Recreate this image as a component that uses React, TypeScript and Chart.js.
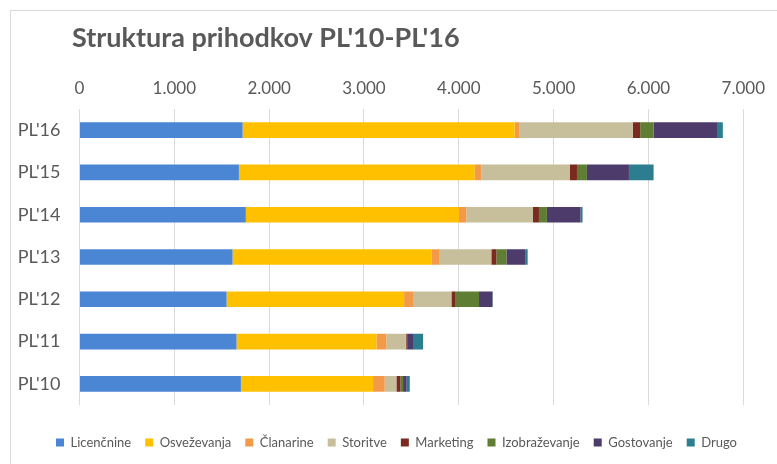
import React, { useEffect, useRef } from "react";
import { Chart, registerables } from "chart.js";

Chart.register(...registerables);

const TITLE = "Struktura prihodkov PL'10-PL'16";
const categories = ["PL'16", "PL'15", "PL'14", "PL'13", "PL'12", "PL'11", "PL'10"];
const xTickLabels = ["0", "1.000", "2.000", "3.000", "4.000", "5.000", "6.000", "7.000"];

const seriesNames = ["Licenčnine", "Osveževanja", "Članarine", "Storitve", "Marketing", "Izobraževanje", "Gostovanje", "Drugo"];
const licencnine = [1720, 1681, 1754, 1614, 1551, 1656, 1702];
const osvezevanja = [2869, 2487, 2248, 2097, 1872, 1476, 1394];
const clanarine = [53, 70, 78, 88, 94, 105, 123];
const storitve = [1194, 931, 702, 544, 405, 203, 123];
const marketing = [77, 77, 63, 53, 45, 10, 42];
const izobrazevanje = [140, 105, 84, 106, 246, 5, 28];
const gostovanje = [678, 443, 355, 203, 141, 62, 38];
const drugo = [53, 260, 21, 21, 5, 106, 33];

const colors = ["#4a86d3", "#ffc000", "#f39a4a", "#c7bf9c", "#7a2a1e", "#5f7d33", "#4d3b6c", "#2c7d90"];

const FONT = "Lato, 'Liberation Sans', sans-serif";
const TEXT = "#595959";

export default function App() {
  const ref = useRef<HTMLCanvasElement | null>(null);
  useEffect(() => {
    if (!ref.current) return;
    const all = [licencnine, osvezevanja, clanarine, storitve, marketing, izobrazevanje, gostovanje, drugo];
    const decor = {
      id: "decor",
      beforeDraw(chart: any) {
        const ctx = chart.ctx;
        ctx.save();
        ctx.fillStyle = "#ffffff";
        ctx.fillRect(0, 0, chart.width, chart.height);
        ctx.strokeStyle = "#d9d9d9";
        ctx.lineWidth = 1;
        ctx.strokeRect(10.5, 10.5, 900, 600);
        ctx.restore();
      },
      afterDraw(chart: any) {
        const ctx = chart.ctx;
        ctx.save();
        ctx.fillStyle = TEXT;
        ctx.font = `bold 27px ${FONT}`;
        ctx.textBaseline = "alphabetic";
        ctx.textAlign = "left";
        ctx.fillText(TITLE, 72, 47);
        ctx.restore();
      },
    };
    const chart = new Chart(ref.current, {
      type: "bar",
      data: {
        labels: categories,
        datasets: all.map((d, i) => ({
          label: seriesNames[i],
          data: d,
          backgroundColor: colors[i],
          borderWidth: 0,
          barPercentage: 0.37,
          categoryPercentage: 1,
        })),
      },
      options: {
        indexAxis: "y",
        animation: false,
        responsive: false,
        layout: { padding: { left: 16, right: 0, top: 56, bottom: 5 } },
        plugins: {
          title: { display: false },
          tooltip: { enabled: false },
          legend: {
            position: "bottom",
            align: "center",
            labels: {
              boxWidth: 8,
              boxHeight: 8,
              padding: 14,
              color: TEXT,
              font: { family: FONT, size: 13 },
            },
          },
        },
        scales: {
          x: {
            position: "top",
            stacked: true,
            min: 0,
            max: 7000,
            afterFit: (s: any) => { s.height = 53; },
            ticks: {
              stepSize: 1000,
              padding: 10,
              color: TEXT,
              font: { family: FONT, size: 17 },
              callback: (_v: any, i: number) => xTickLabels[i],
            },
            grid: { color: "#d9d9d9", drawTicks: false },
            border: { display: false },
          },
          x2: {
            position: "bottom",
            display: true,
            min: 0,
            max: 7000,
            afterFit: (s: any) => { s.height = 17; },
            ticks: { display: false },
            grid: { display: false, drawTicks: false },
            border: { display: false },
          },
          y: {
            stacked: true,
            afterFit: (s: any) => { s.width = 63.5; },
            ticks: {
              padding: 19,
              color: TEXT,
              font: { family: FONT, size: 18 },
            },
            grid: { display: false, drawTicks: false },
            border: { display: false },
          },
          y2: {
            position: "right",
            display: true,
            afterFit: (s: any) => { s.width = 33.7; },
            ticks: { display: false },
            grid: { display: false, drawTicks: false },
            border: { display: false },
          },
        },
      },
      plugins: [decor],
    });
    return () => chart.destroy();
  }, []);
  return (
    <div style={{ position: "absolute", left: 0, top: 0, width: 777, height: 464 }}>
      <canvas ref={ref} width={777} height={464} style={{ width: 777, height: 464 }} />
    </div>
  );
}
